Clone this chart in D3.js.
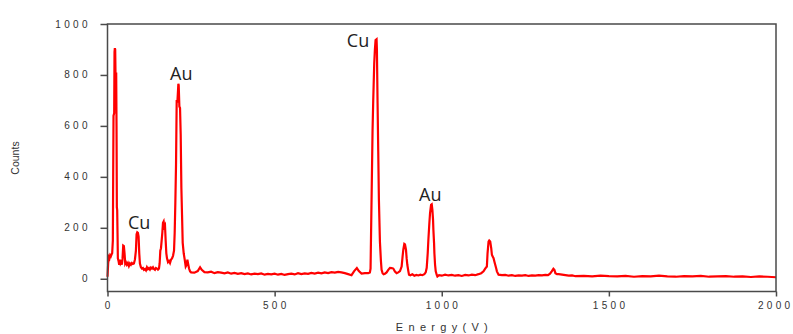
<!DOCTYPE html>
<html><head><meta charset="utf-8">
<script src="https://cdn.jsdelivr.net/npm/d3@7"></script>
<style>
html,body{margin:0;padding:0;background:#fff;}
svg{display:block;}
</style></head>
<body>
<svg id="chart" width="793" height="334"></svg>
<script>
// Energy (V) sample positions and counts
const energy = [0,2,4,6,8,10,12,14,16,17,18,20,21,22,23,24,26,27,28,29,30,31,33,35,37,39,41,43,45,47,49,51,53,55,58,61,64,67,70,73,76,79,82,85,87,89,91,93,95,97,100,103,106,109,112,115,118,121,124,127,130,133,136,139,142,145,148,151,154,156,158,160,162,164,166,168,170,172,174,176,178,181,184,187,190,193,196,199,201,203,205,207,209,211,212,213,215,217,219,221,223,225,228,231,234,237,239,241,244,247,250,260,270,277,282,290,300,310,320,330,340,350,360,370,380,390,400,410,420,430,440,450,460,470,480,490,500,510,520,530,540,550,560,570,580,590,600,610,620,630,640,650,660,670,680,690,700,710,720,730,738,746,752,760,770,780,785,787,790,793,795,798,800,802,805,806,808,810,812,815,818,820,823,826,830,835,840,845,850,855,860,865,870,875,880,883,885,888,890,893,895,897,900,902,906,912,918,924,930,936,942,948,952,955,958,960,963,965,968,970,972,974,975,977,978,980,982,985,987,992,1000,1010,1020,1030,1040,1050,1060,1070,1080,1090,1100,1110,1118,1125,1130,1135,1137,1140,1142,1145,1148,1150,1152,1155,1158,1160,1163,1165,1170,1180,1190,1200,1210,1220,1230,1240,1250,1260,1270,1280,1290,1300,1310,1318,1324,1329,1334,1337,1340,1345,1350,1360,1370,1380,1390,1400,1425,1450,1475,1500,1525,1550,1575,1600,1625,1650,1675,1700,1725,1750,1775,1800,1825,1850,1875,1900,1925,1950,1975,2000];
const counts = [8,60,85,80,92,88,95,100,150,400,640,650,890,905,900,800,810,600,280,270,180,80,70,55,75,60,65,55,80,130,128,100,60,65,55,62,50,60,55,62,58,60,75,110,175,182,180,165,100,60,45,40,42,35,38,33,45,38,42,36,44,40,45,38,35,42,40,36,40,60,110,120,150,180,220,225,205,210,150,100,80,65,70,62,75,80,90,110,180,300,447,702,692,740,765,760,676,670,565,357,250,141,100,75,48,55,75,60,40,29,25,24,30,45,35,26,25,28,22,26,24,21,25,20,23,19,22,18,21,17,20,18,21,16,19,17,20,16,19,15,18,20,17,22,18,21,19,23,20,24,21,25,22,26,24,27,25,22,18,14,30,42,30,20,22,22,25,40,310,584,700,846,900,937,940,900,689,500,310,146,70,35,22,18,20,25,35,43,42,40,28,22,25,30,48,90,114,137,135,114,80,55,30,16,14,18,12,15,13,16,14,18,25,43,100,153,220,258,290,292,270,230,192,140,100,55,29,15,9,14,12,16,13,15,12,14,11,15,13,16,14,18,22,29,40,48,100,146,150,146,120,94,88,81,65,55,40,29,16,14,15,12,14,11,13,12,14,11,13,12,14,13,15,14,20,29,39,35,22,18,18,16,14,12,13,10,11,9,12,10,9,11,8,10,9,12,9,8,10,9,11,8,9,10,8,9,7,9,8,6];

const xTicks = [0,500,1000,1500,2000];
const yTicks = [0,200,400,600,800,1000];

const labelText = ["Cu","Au","Cu","Au"];
const labelE = [61,187,716,932];
const labelC = [196,780,911,307];

const svg = d3.select("#chart");
const x = d3.scaleLinear().domain([0,2000]).range([107.5,776]);
const y = d3.scaleLinear().domain([-50,1000]).range([291.5,24]);

const frameColor = "#4a4a4a";
const tickFont = "'Liberation Sans', Arial, sans-serif";

// data line
const n = Math.min(energy.length, counts.length);
const pts = energy.slice(0,n).map((e,i)=>[e,counts[i]]);
svg.append("path")
  .datum(pts)
  .attr("fill","none")
  .attr("stroke","#ff0000")
  .attr("stroke-width",2.2)
  .attr("stroke-linejoin","miter")
  .attr("d", d3.line().defined(d=>d[1]!=null).x(d=>x(d[0])).y(d=>y(d[1])));

// frame
svg.append("rect")
  .attr("x",x(0)).attr("y",y(1000))
  .attr("width",x(2000)-x(0)).attr("height",y(-50)-y(1000))
  .attr("fill","none").attr("stroke",frameColor).attr("stroke-width",1.5);

// y axis
const yAx = svg.append("g").attr("transform",`translate(${x(0)},0)`)
  .call(d3.axisLeft(y).tickValues(yTicks).tickSize(7).tickFormat(""));
yAx.select(".domain").remove();
yAx.selectAll("line").attr("stroke",frameColor).attr("stroke-width",1.5);

const ls = 3.3;
svg.append("g").selectAll("text").data(yTicks).join("text")
  .attr("x", 87.5+ls)
  .attr("y", d=>y(d))
  .attr("dy","0.35em")
  .attr("text-anchor","end")
  .style("font-family",tickFont).style("font-size","10px")
  .style("letter-spacing",ls+"px")
  .attr("fill","#333")
  .text(d=>d);

// x axis
const xAx = svg.append("g").attr("transform",`translate(0,${y(-50)})`)
  .call(d3.axisBottom(x).tickValues(xTicks).tickSize(5).tickFormat(""));
xAx.select(".domain").remove();
xAx.selectAll("line").attr("stroke",frameColor).attr("stroke-width",1.5);

svg.append("g").selectAll("text").data(xTicks).join("text")
  .attr("x", d=>x(d)+ls/2 - (d===2000?2:0))
  .attr("y", 309)
  .attr("text-anchor","middle")
  .style("font-family",tickFont).style("font-size","10px")
  .style("letter-spacing",ls+"px")
  .attr("fill","#333")
  .text(d=>d);

// axis titles
svg.append("text")
  .attr("transform","translate(19,158) rotate(-90)")
  .attr("text-anchor","middle")
  .style("font-family",tickFont).style("font-size","10.5px")
  .attr("fill","#333")
  .text("Counts");

svg.append("text")
  .attr("x", (x(0)+x(2000))/2 + 2.7)
  .attr("y", 331)
  .attr("text-anchor","middle")
  .style("font-family",tickFont).style("font-size","11px")
  .style("letter-spacing","5.3px")
  .attr("fill","#333")
  .text("Energy(V)");

// peak labels
svg.append("g").selectAll("text").data(labelText).join("text")
  .attr("x",(d,i)=>x(labelE[i]))
  .attr("y",(d,i)=>y(labelC[i]))
  .style("font-family","'Open Sans', 'Noto Sans', sans-serif")
  .style("font-size","18px")
  .attr("fill","#222")
  .text(d=>d);
</script>
</body></html>
